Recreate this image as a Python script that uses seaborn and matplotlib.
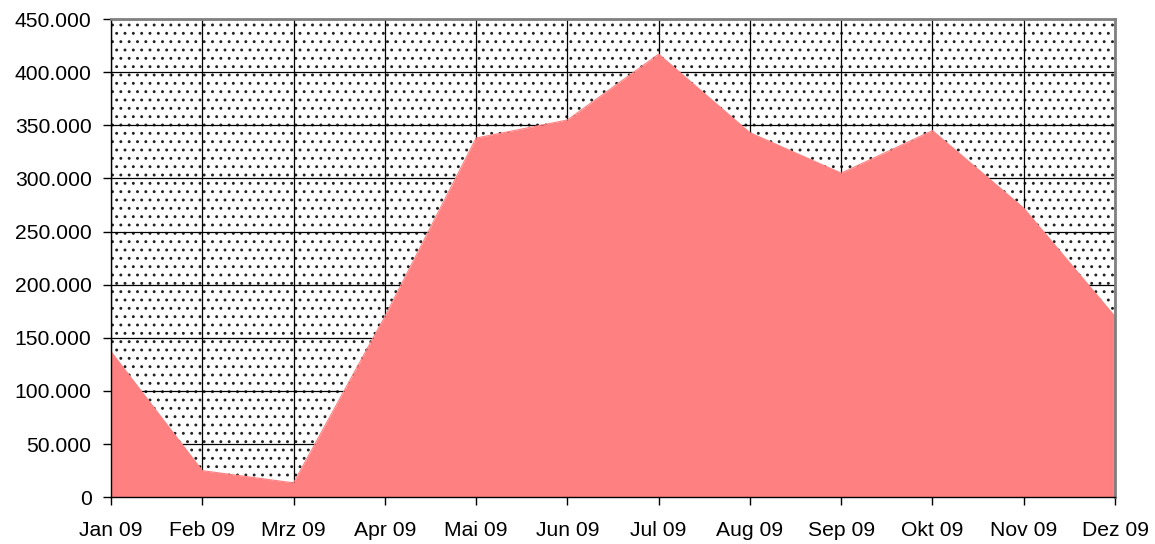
import matplotlib
matplotlib.use("Agg")

import matplotlib.pyplot as plt
import seaborn as sns
import pandas as pd
from matplotlib.ticker import FuncFormatter, MultipleLocator

months = ['Jan 09', 'Feb 09', 'Mrz 09', 'Apr 09', 'Mai 09', 'Jun 09',
          'Jul 09', 'Aug 09', 'Sep 09', 'Okt 09', 'Nov 09', 'Dez 09']
values = [137000, 25000, 13500, 170000, 338000, 355000,
          417000, 343000, 305000, 345000, 272000, 170000]

df = pd.DataFrame({'pos': range(len(months)), 'value': values})

sns.set_style('white')
plt.rcParams['font.family'] = ['Liberation Sans', 'DejaVu Sans']
plt.rcParams['hatch.color'] = '#222222'
plt.rcParams['hatch.linewidth'] = 0.9

fig, ax = plt.subplots(figsize=(11.55, 5.44), dpi=100)
fig.subplots_adjust(left=0.0961, right=0.9654, top=0.965, bottom=0.086)

# dotted plot background
ax.axhspan(0, 450000, facecolor='white', edgecolor='#222222', hatch='..',
           linewidth=0, zorder=0)

ax.grid(True, color='black', linewidth=0.9, zorder=1)
ax.set_axisbelow(False)
for gl in ax.get_xgridlines() + ax.get_ygridlines():
    gl.set_zorder(1)

sns.lineplot(data=df, x='pos', y='value', color='#FF8080', linewidth=0.8,
             ax=ax, zorder=3)
ax.fill_between(df['pos'], df['value'], 0, color='#FF8080', linewidth=0,
                zorder=3)

ax.set_xlim(0, len(months) - 1)
ax.set_ylim(0, 450000)
ax.set_xticks(range(len(months)))
ax.set_xticklabels(months)
ax.yaxis.set_major_locator(MultipleLocator(50000))
ax.yaxis.set_major_formatter(
    FuncFormatter(lambda v, p: f'{int(v):,}'.replace(',', '.')))

ax.tick_params(axis='both', which='major', labelsize=15.2, colors='black',
               direction='out', length=6, width=1, left=True, bottom=True)
ax.tick_params(axis='x', pad=11)
ax.tick_params(axis='y', pad=8)
ax.set_xlabel('')
ax.set_ylabel('')

for side in ['left', 'bottom']:
    ax.spines[side].set_color('black')
    ax.spines[side].set_linewidth(1)
    ax.spines[side].set_zorder(5)
for side in ['top', 'right']:
    ax.spines[side].set_color('#808080')
    ax.spines[side].set_linewidth(2)
    ax.spines[side].set_zorder(5)

fig.savefig('out.png', dpi=100)
